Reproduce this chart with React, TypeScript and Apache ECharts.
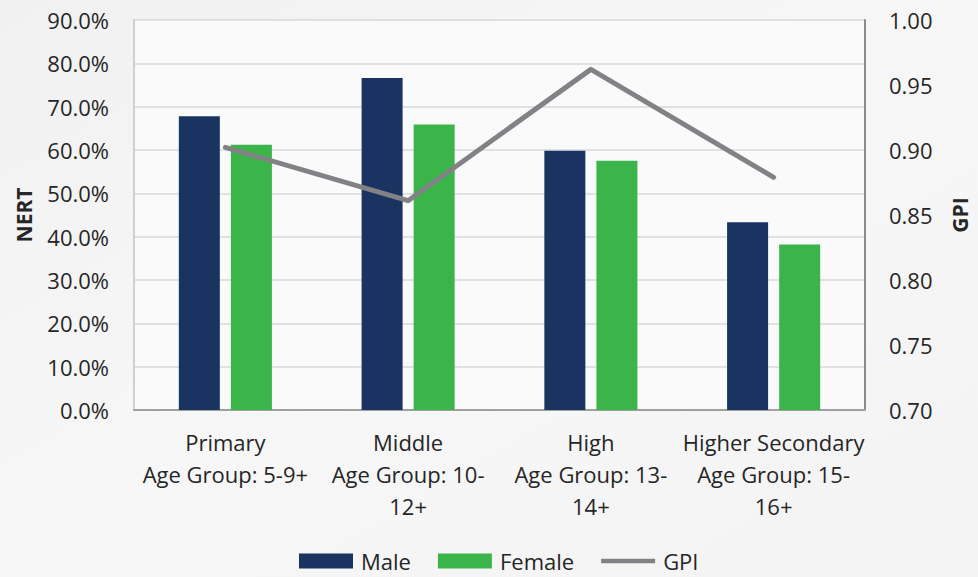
import React, { useEffect, useRef } from "react";
import * as echarts from "echarts";

const categories = [
  "Primary\nAge Group: 5-9+",
  "Middle\nAge Group: 10-\n12+",
  "High\nAge Group: 13-\n14+",
  "Higher Secondary\nAge Group: 15-\n16+",
];
const maleNert = [67.8, 76.6, 59.8, 43.3];
const femaleNert = [61.2, 65.9, 57.5, 38.2];
const gpi = [0.902, 0.861, 0.962, 0.879];

const FONT = "'Open Sans', 'Noto Sans', sans-serif";
const TEXT = "#262626";
const GPI_COLOR = "#808285";

export default function App() {
  const ref = useRef<HTMLDivElement>(null);

  useEffect(() => {
    document.body.style.margin = "0";
    const chart = echarts.init(ref.current!, null, { renderer: "svg" });
    chart.setOption({
      animation: false,
      backgroundColor: {
        type: "linear",
        x: 0,
        y: 0,
        x2: 1,
        y2: 1,
        colorStops: [
          { offset: 0, color: "#f1f1f1" },
          { offset: 0.5, color: "#f7f7f7" },
          { offset: 1, color: "#f3f3f3" },
        ],
      },
      textStyle: { fontFamily: FONT, color: TEXT },
      grid: {
        left: 134,
        right: 106,
        top: 20,
        bottom: 167,
        show: true,
        backgroundColor: "#fafafa",
        borderWidth: 0,
      },
      legend: {
        bottom: 0,
        left: 294,
        itemWidth: 54,
        itemHeight: 15,
        itemGap: 27,
        textStyle: { fontSize: 22, color: TEXT, fontFamily: FONT, padding: [0, 0, 0, 3] },
        data: [
          { name: "Male", icon: "rect" },
          { name: "Female", icon: "rect" },
          { name: "GPI", icon: "path://M0,0 L60,0 L60,5 L0,5 Z" },
        ],
      },
      xAxis: {
        type: "category",
        data: categories,
        axisTick: { show: false },
        axisLine: { lineStyle: { color: "#a0a0a0", width: 2 } },
        axisLabel: {
          fontSize: 22,
          lineHeight: 32,
          margin: 16,
          color: TEXT,
          interval: 0,
          align: "center",
        },
      },
      yAxis: [
        {
          type: "value",
          min: 0,
          max: 90,
          interval: 10,
          name: "NERT",
          nameLocation: "middle",
          nameRotate: 90,
          nameGap: 100,
          nameTextStyle: { fontSize: 21, fontWeight: "bold", color: TEXT },
          axisLine: { show: true, lineStyle: { color: "#d0d0d0", width: 2 } },
          axisTick: { show: false },
          splitLine: { lineStyle: { color: "#d9d9d9", width: 1.5 } },
          axisLabel: {
            fontSize: 22,
            margin: 25,
            color: TEXT,
            formatter: (v: number) => v.toFixed(1) + "%",
          },
        },
        {
          type: "value",
          min: 0.7,
          max: 1.0,
          interval: 0.05,
          name: "GPI",
          nameLocation: "middle",
          nameRotate: 90,
          nameGap: 84,
          nameTextStyle: { fontSize: 21, fontWeight: "bold", color: TEXT },
          axisLine: { show: true, lineStyle: { color: "#8c8c8c", width: 2 } },
          axisTick: { show: false },
          splitLine: { show: false },
          axisLabel: {
            fontSize: 22,
            margin: 24,
            color: TEXT,
            formatter: (v: number) => v.toFixed(2),
          },
        },
      ],
      series: [
        {
          name: "Male",
          type: "bar",
          data: maleNert,
          barWidth: 41,
          barGap: "27%",
          itemStyle: { color: "#1a3461" },
        },
        {
          name: "Female",
          type: "bar",
          data: femaleNert,
          barWidth: 41,
          barGap: "27%",
          itemStyle: { color: "#3bb54a" },
        },
        {
          name: "GPI",
          type: "line",
          yAxisIndex: 1,
          data: gpi,
          symbol: "none",
          lineStyle: { color: GPI_COLOR, width: 5, cap: "round", join: "round" },
          itemStyle: { color: GPI_COLOR },
        },
      ],
    });
    return () => chart.dispose();
  }, []);

  return (
    <div
      ref={ref}
      style={{ position: "absolute", left: 0, top: 0, width: 978, height: 577 }}
    />
  );
}
